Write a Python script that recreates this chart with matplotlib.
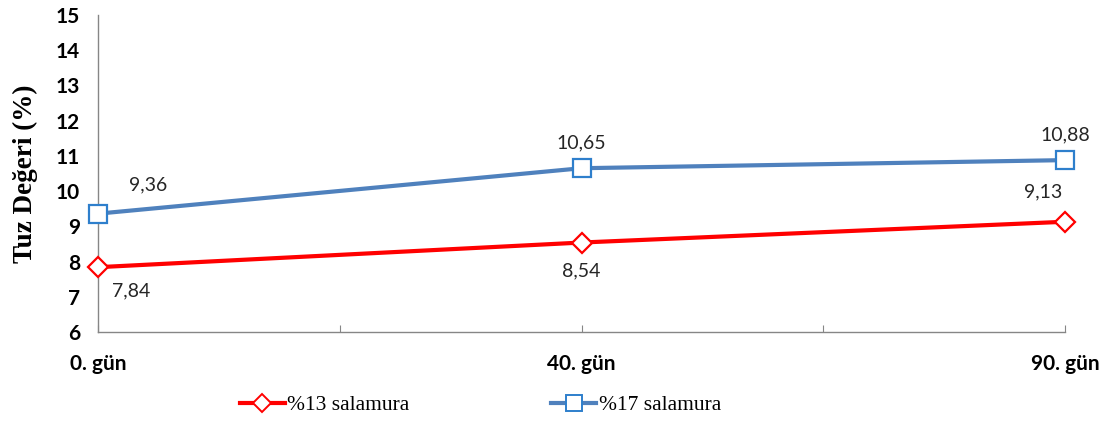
import matplotlib
matplotlib.use("Agg")
import matplotlib.pyplot as plt
from matplotlib.lines import Line2D

categories = ["0. gün", "40. gün", "90. gün"]
salamura13 = [7.84, 8.54, 9.13]
salamura17 = [9.36, 10.65, 10.88]
series_names = ["%13 salamura", "%17 salamura"]
yticks = [6, 7, 8, 9, 10, 11, 12, 13, 14, 15]

fig = plt.figure(figsize=(11.09, 4.21), dpi=100)
ax = fig.add_axes([98 / 1109, 1 - 332 / 421, (1065 - 98) / 1109, (332 - 15) / 421])

x = list(range(len(categories)))
red = "#FF0000"
blue_line = "#4F81BD"
blue_edge = "#2E7FCC"

ax.plot(x, salamura13, color=red, lw=3, marker="D", ms=10, mfc="white",
        mec=red, mew=1.6, zorder=3, clip_on=False)
ax.plot(x, salamura17, color=blue_line, lw=3, marker="s", ms=13, mfc="white",
        mec=blue_edge, mew=1.6, zorder=3, clip_on=False)

ax.set_xlim(0, 2)
ax.set_ylim(6, 15)
ax.set_yticks(yticks)
ax.set_yticklabels([str(v) for v in yticks], fontfamily="Lato", fontweight="bold",
                   fontsize=15)
ax.set_xticks([0, 0.5, 1, 1.5, 2])
ax.set_xticklabels([categories[0], "", categories[1], "", categories[2]],
                   fontfamily="Lato", fontweight="bold", fontsize=15)
ax.tick_params(axis="y", length=0, pad=13)
ax.tick_params(axis="x", direction="in", length=5, color="#868686", pad=16)

for s in ["top", "right"]:
    ax.spines[s].set_visible(False)
for s in ["left", "bottom"]:
    ax.spines[s].set_color("#868686")
    ax.spines[s].set_linewidth(1.0)

ax.set_ylabel("Tuz Değeri (%)", fontfamily="Liberation Serif", fontweight="bold",
              fontsize=19.5, labelpad=13)

def fmt(v):
    return f"{v:.2f}".replace(".", ",")

lab_kw = dict(fontfamily="Lato", fontsize=14, color="#262626")
# data labels
offsets13 = [(33, -24), (0, -28), (-22, 30)]
offsets17 = [(50, 29), (0, 25), (0, 25)]
for xi, v, (dx, dy) in zip(x, salamura13, offsets13):
    ax.annotate(fmt(v), (xi, v), xytext=(dx, dy), textcoords="offset pixels",
                ha="center", va="center", **lab_kw)
for xi, v, (dx, dy) in zip(x, salamura17, offsets17):
    ax.annotate(fmt(v), (xi, v), xytext=(dx, dy), textcoords="offset pixels",
                ha="center", va="center", **lab_kw)

handles = [
    Line2D([], [], color=red, lw=3, marker="D", ms=9, mfc="white", mec=red, mew=1.4),
    Line2D([], [], color=blue_line, lw=3, marker="s", ms=11, mfc="white",
           mec=blue_edge, mew=1.4),
]
fig.legend(handles, series_names, loc="center", bbox_to_anchor=(0.433, 1 - 405 / 421),
           ncol=2, frameon=False, prop={"family": "Liberation Serif", "size": 15.5},
           handlelength=2.1, handletextpad=0.1, columnspacing=6.6)

fig.savefig("out.png", dpi=100)
